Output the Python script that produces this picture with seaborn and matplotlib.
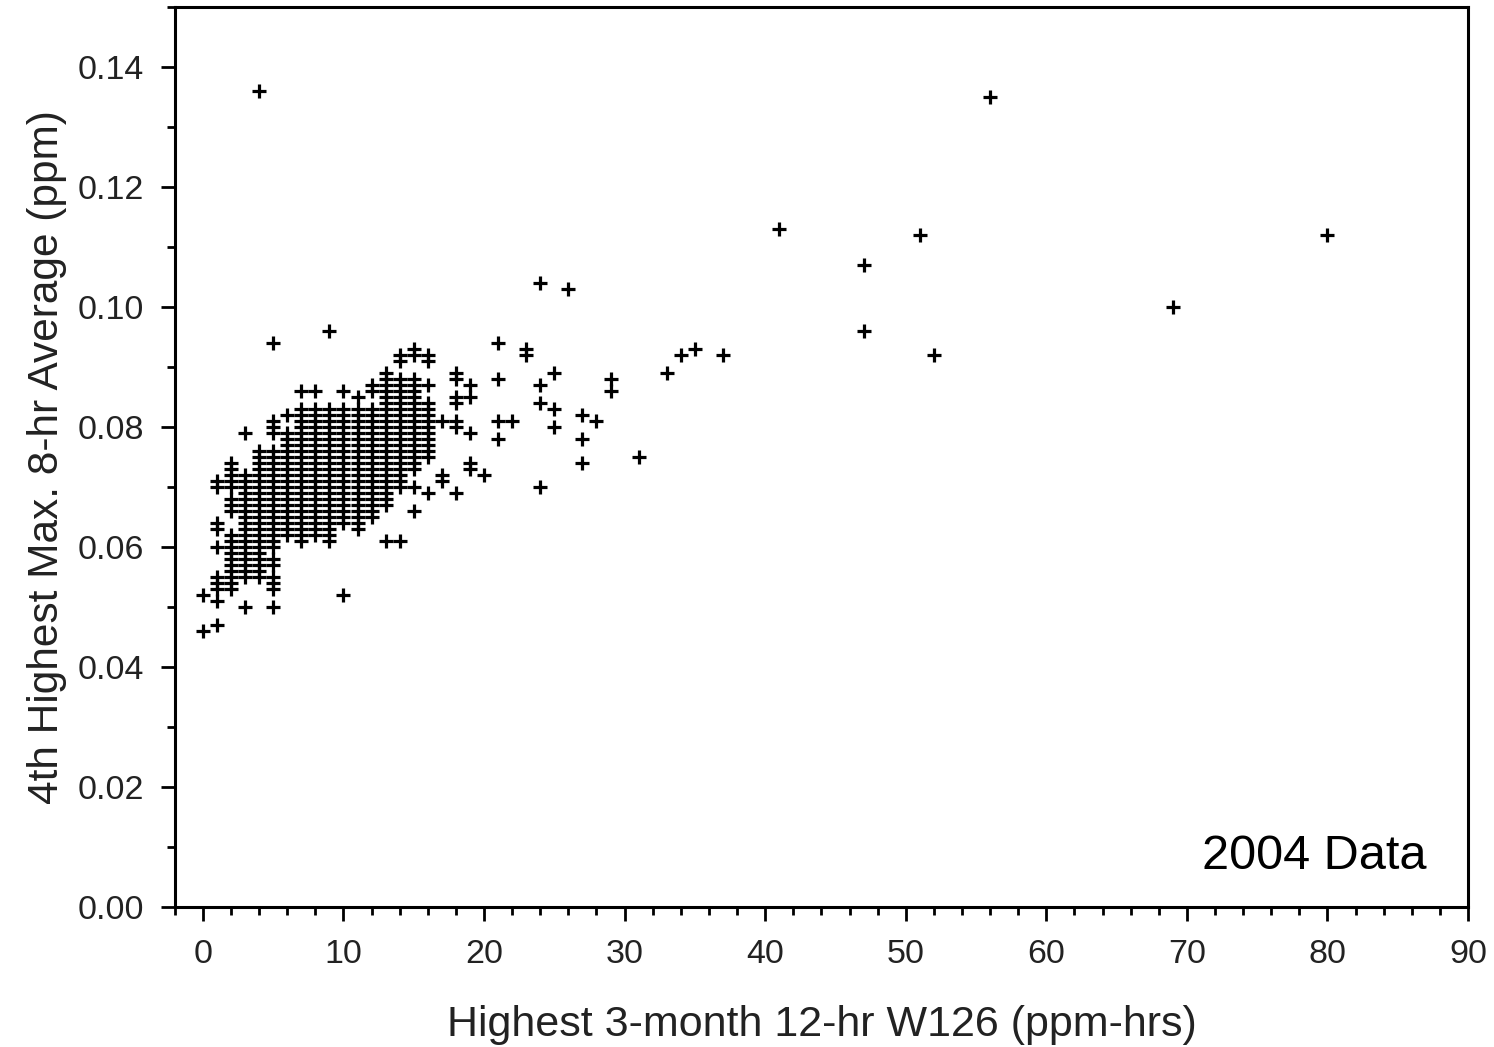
"""
scatter of 4th highest 8-hr ozone vs W126, 2004 data
"""

import matplotlib
matplotlib.use('AGG')
import matplotlib.pyplot as plt
from matplotlib.ticker import MultipleLocator
import pandas as pd
import seaborn as sns

# W126 columns (ppm-hrs) and the ozone values (ppb) plotted at each of them
low_w126 = [0, 1, 2, 3, 4, 5]
low_o3 = [
    [52, 46],
    [71, 70, 64, 63, 60, 55, 54, 53, 51, 47],
    [74, 73, 72, 71, 70, 68, 67, 66, 62, 61, 60, 59, 58, 57, 56, 55, 54, 53],
    [79, 72, 71, 70, 69, 68, 67, 66, 65, 64, 63, 62, 61, 60, 59, 58, 57, 56, 55, 50],
    [136, 76, 75, 74, 73, 72, 71, 70, 69, 68, 67, 66, 65, 64, 63, 62, 61, 60, 59,
     58, 57, 56, 55],
    [94, 81, 80, 79, 76, 75, 74, 73, 72, 71, 70, 69, 68, 67, 66, 65, 64, 63, 62,
     61, 60, 58, 57, 55, 54, 53, 50],
]

mid_w126 = [6, 7, 8, 9, 10]
mid_o3 = [
    [82, 79, 78, 77, 76, 75, 74, 73, 72, 71, 70, 69, 68, 67, 66, 65, 64, 63, 62],
    [86, 83, 82, 81, 80, 79, 78, 77, 76, 75, 74, 73, 72, 71, 70, 69, 68, 67, 66,
     65, 64, 63, 62, 61],
    [86, 83, 82, 81, 80, 79, 78, 77, 76, 75, 74, 73, 72, 71, 70, 69, 68, 67, 66,
     65, 64, 63, 62],
    [96, 83, 82, 81, 80, 79, 78, 77, 76, 75, 74, 73, 72, 71, 70, 69, 68, 67, 66,
     65, 64, 63, 62, 61],
    [86, 83, 82, 81, 80, 79, 78, 77, 76, 75, 74, 73, 72, 71, 70, 69, 68, 67, 66,
     65, 64, 52],
]

high_w126 = [11, 12, 13, 14, 15, 16]
high_o3 = [
    [85, 83, 82, 81, 80, 79, 78, 77, 76, 75, 74, 73, 72, 71, 70, 69, 68, 67, 66,
     65, 64, 63],
    [87, 86, 83, 82, 81, 80, 79, 78, 77, 76, 75, 74, 73, 72, 71, 70, 69, 68, 67,
     66, 65],
    [89, 88, 87, 86, 85, 84, 83, 82, 81, 80, 79, 78, 77, 76, 75, 74, 73, 72, 71,
     70, 69, 68, 67, 61],
    [92, 91, 88, 87, 86, 85, 84, 83, 82, 81, 80, 79, 78, 77, 76, 75, 74, 73, 72,
     71, 70, 61],
    [93, 92, 88, 87, 86, 85, 84, 83, 82, 81, 80, 79, 78, 77, 76, 75, 74, 73, 70, 66],
    [92, 91, 87, 84, 83, 82, 81, 80, 79, 78, 77, 76, 75, 69],
]

sparse_w126 = [17, 18, 19, 20, 21, 22, 23, 24, 25, 26, 27, 28, 29, 31, 33, 34,
               35, 37, 41, 47, 51, 52, 56, 69, 80]
sparse_o3 = [
    [81, 72, 71],
    [89, 88, 85, 84, 81, 80, 69],
    [87, 85, 79, 74, 73],
    [72],
    [94, 88, 81, 78],
    [81],
    [93, 92],
    [104, 87, 84, 70],
    [89, 83, 80],
    [103],
    [82, 78, 74],
    [81],
    [88, 86],
    [75],
    [89],
    [92],
    [93],
    [92],
    [113],
    [107, 96],
    [112],
    [92],
    [135],
    [100],
    [112],
]

rows = []
for xs, ys in [(low_w126, low_o3), (mid_w126, mid_o3),
               (high_w126, high_o3), (sparse_w126, sparse_o3)]:
    for x, col in zip(xs, ys):
        for v in col:
            rows.append((x, v / 1000.0))
data = pd.DataFrame(rows, columns=['w126', 'o3'])

sns.set_theme(style='ticks')
plt.rcParams['font.family'] = ['Liberation Sans', 'DejaVu Sans']

fig = plt.figure(figsize=(14.94, 10.47), dpi=100)
ax = fig.add_axes([0.117, 0.1337, 0.8656, 0.8596])

sns.scatterplot(data=data, x='w126', y='o3', marker='+', color='black',
                s=110, linewidth=2.3, ax=ax, legend=False)

ax.set_xlim(-2, 90)
ax.set_ylim(0, 0.15)
ax.xaxis.set_major_locator(MultipleLocator(10))
ax.xaxis.set_minor_locator(MultipleLocator(2))
ax.yaxis.set_major_locator(MultipleLocator(0.02))
ax.yaxis.set_minor_locator(MultipleLocator(0.01))
ax.yaxis.set_major_formatter(matplotlib.ticker.FormatStrFormatter('%.2f'))
ax.set_yticks([0, 0.02, 0.04, 0.06, 0.08, 0.10, 0.12, 0.14])

for s in ax.spines.values():
    s.set_linewidth(2.2)
    s.set_color('black')
ax.tick_params(axis='both', which='major', length=10, width=2, labelsize=24.5,
               color='black', labelcolor='#222222')
ax.tick_params(axis='both', which='minor', length=6, width=2, color='black')
ax.tick_params(axis='x', which='major', pad=13)
ax.tick_params(axis='y', which='major', pad=12)

ax.set_xlabel('Highest 3-month 12-hr W126 (ppm-hrs)', fontsize=31,
              labelpad=25, color='#222222')
ax.set_ylabel('4th Highest Max. 8-hr Average (ppm)', fontsize=30.5,
              labelpad=8, color='#222222')

ax.text(0.968, 0.056, '2004 Data', transform=ax.transAxes, ha='right',
        va='center', fontsize=35, color='black')

fig.savefig('out.png', dpi=100)
plt.close()
